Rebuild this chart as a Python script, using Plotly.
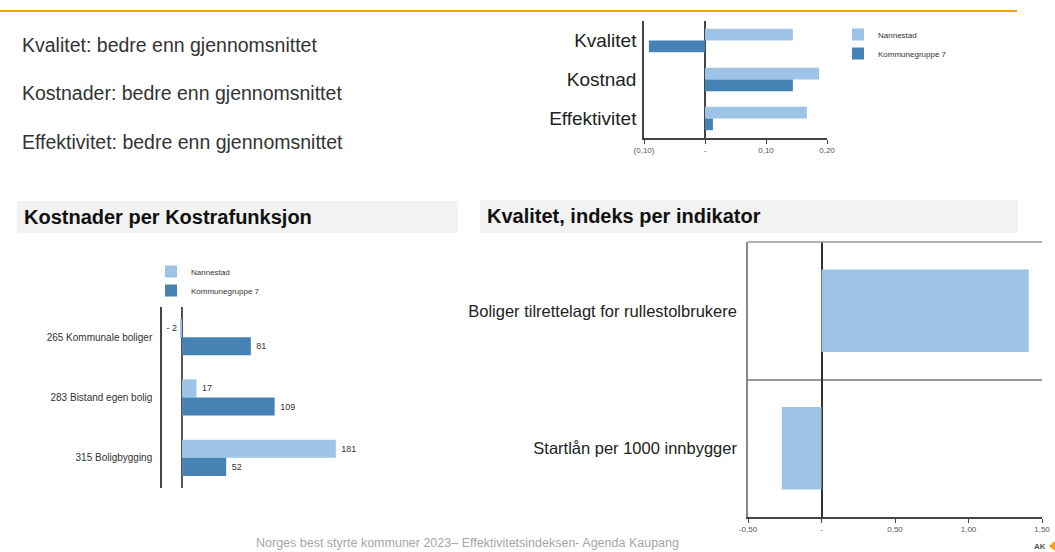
import plotly.graph_objects as go

W, H = 1055, 552


def px(x):
    return x / W


def py(y):
    return 1 - y / H


FONT = "Liberation Sans, Arial, sans-serif"
LIGHT = "#9DC3E6"
DARK = "#4682B4"
ORANGE = "#F5A316"

# Summary text
summary_lines = [
    "Kvalitet: bedre enn gjennomsnittet",
    "Kostnader: bedre enn gjennomsnittet",
    "Effektivitet: bedre enn gjennomsnittet",
]

# Index overview
index_categories = ["Kvalitet", "Kostnad", "Effektivitet"]
index_nannestad = [0.144, 0.187, 0.167]
index_kg7 = [-0.092, 0.144, 0.013]
index_tickvals = [-0.10, 0.0, 0.10, 0.20]
index_ticktext = ["(0,10)", "-", "0,10", "0,20"]

# Costs per KOSTRA function
kostra_categories = ["265 Kommunale boliger", "283 Bistand egen bolig", "315 Boligbygging"]
kostra_nannestad = [-2, 17, 181]
kostra_kg7 = [81, 109, 52]

# Quality index per indicator
quality_categories = ["Boliger tilrettelagt for rullestolbrukere", "Startlån per 1000 innbygger"]
quality_nannestad = [1.41, -0.27]
quality_tickvals = [-0.5, 0.0, 0.5, 1.0, 1.5]
quality_ticktext = ["-0,50", "-", "0,50", "1,00", "1,50"]

series_names = ["Nannestad", "Kommunegruppe 7"]


def fmt_label(v):
    return f"- {abs(v)}" if v < 0 else f" {v}"


fig = go.Figure()

# Index overview bars
fig.add_trace(go.Bar(
    y=index_categories, x=index_nannestad, orientation="h", name=series_names[0],
    marker=dict(color=LIGHT, line=dict(width=0)), xaxis="x", yaxis="y", legend="legend",
))
fig.add_trace(go.Bar(
    y=index_categories, x=index_kg7, orientation="h", name=series_names[1],
    marker=dict(color=DARK, line=dict(width=0)), xaxis="x", yaxis="y", legend="legend",
))

# KOSTRA bars
fig.add_trace(go.Bar(
    y=kostra_categories, x=kostra_nannestad, orientation="h", name=series_names[0],
    marker=dict(color=LIGHT, line=dict(width=0)), xaxis="x2", yaxis="y2", legend="legend2",
    text=[fmt_label(v) for v in kostra_nannestad], textposition="outside",
    textfont=dict(size=9, color="#333333", family=FONT), cliponaxis=False, constraintext="none",
))
fig.add_trace(go.Bar(
    y=kostra_categories, x=kostra_kg7, orientation="h", name=series_names[1],
    marker=dict(color=DARK, line=dict(width=0)), xaxis="x2", yaxis="y2", legend="legend2",
    text=[fmt_label(v) for v in kostra_kg7], textposition="outside",
    textfont=dict(size=9, color="#333333", family=FONT), cliponaxis=False, constraintext="none",
))

# Quality bars
fig.add_trace(go.Bar(
    y=quality_categories, x=quality_nannestad, orientation="h", name=series_names[0],
    marker=dict(color=LIGHT, line=dict(width=0)), xaxis="x3", yaxis="y3", showlegend=False,
))

shapes = [
    # orange rule along the top
    dict(type="line", xref="paper", yref="paper", x0=0, x1=px(1017), y0=py(11), y1=py(11),
         line=dict(color=ORANGE, width=2)),
    # section header panels
    dict(type="rect", xref="paper", yref="paper", x0=px(17), x1=px(458), y0=py(233), y1=py(201),
         fillcolor="#F2F2F2", line=dict(width=0), layer="below"),
    dict(type="rect", xref="paper", yref="paper", x0=px(480), x1=px(1018), y0=py(233), y1=py(200),
         fillcolor="#F2F2F2", line=dict(width=0), layer="below"),
    # top border of the quality panel
    dict(type="line", xref="x3 domain", yref="y3 domain", x0=0, x1=1, y0=1, y1=1,
         line=dict(color="#999999", width=1.5)),
    # small logo mark
    dict(type="path", xref="paper", yref="paper",
         path=f"M {px(1049)} {py(546)} L {px(1055)} {py(541)} L {px(1055)} {py(551)} Z",
         fillcolor=ORANGE, line=dict(width=0)),
]

annotations = []
for i, line in enumerate(summary_lines):
    annotations.append(dict(
        text=line, xref="paper", yref="paper", x=px(20), y=py([45, 93, 142][i]),
        xanchor="left", yanchor="middle", showarrow=False,
        font=dict(size=19.5, color="#333333", family=FONT),
    ))
annotations += [
    dict(text="<b>Kostnader per Kostrafunksjon</b>", xref="paper", yref="paper",
         x=px(22), y=py(217), xanchor="left", yanchor="middle", showarrow=False,
         font=dict(size=20, color="#111111", family=FONT)),
    dict(text="<b>Kvalitet, indeks per indikator</b>", xref="paper", yref="paper",
         x=px(485), y=py(216), xanchor="left", yanchor="middle", showarrow=False,
         font=dict(size=20, color="#111111", family=FONT)),
    dict(text="Norges best styrte kommuner 2023– Effektivitetsindeksen- Agenda Kaupang",
         xref="paper", yref="paper", x=px(467), y=py(543), xanchor="center", yanchor="middle",
         showarrow=False, font=dict(size=12.5, color="#A6A6A6", family=FONT)),
    dict(text="<b>AK</b>", xref="paper", yref="paper", x=px(1048), y=py(546),
         xanchor="right", yanchor="middle", showarrow=False,
         font=dict(size=8, color="#555555", family=FONT)),
]

legend_common = dict(
    xanchor="left", yanchor="top", bgcolor="rgba(0,0,0,0)", borderwidth=0,
    font=dict(size=8, color="#333333", family=FONT), itemwidth=30, traceorder="normal",
)

fig.update_layout(
    template="none",
    width=W, height=H, autosize=False, margin=dict(l=0, r=0, t=0, b=0, pad=0),
    paper_bgcolor="white", plot_bgcolor="white",
    font=dict(family=FONT, color="#333333"),
    barmode="group", bargap=0.4, bargroupgap=0,
    shapes=shapes, annotations=annotations,
    legend=dict(x=px(838), y=py(20), **legend_common),
    legend2=dict(x=px(151), y=py(257), **legend_common),
    xaxis=dict(
        domain=[px(644), px(827)], range=[-0.10, 0.20], anchor="y", automargin=False,
        tickvals=index_tickvals, ticktext=index_ticktext,
        ticks="outside", ticklen=4, tickcolor="#444444", tickwidth=1,
        showline=True, linecolor="#444444", linewidth=1.5,
        zeroline=True, zerolinecolor="#444444", zerolinewidth=1.5,
        showgrid=False, tickfont=dict(size=8, color="#555555"),
    ),
    yaxis=dict(
        domain=[py(138), py(21)], anchor="x", autorange="reversed", automargin=False,
        showline=True, linecolor="#444444", linewidth=1.5, ticks="",
        showgrid=False, zeroline=False, tickfont=dict(size=19, color="#222222"), ticklabelstandoff=2,
    ),
    xaxis2=dict(
        domain=[px(162), px(420)], range=[-23.5, 280], anchor="y2", automargin=False,
        showticklabels=False, ticks="", showline=False, showgrid=False,
        zeroline=True, zerolinecolor="#555555", zerolinewidth=1.5,
    ),
    yaxis2=dict(
        domain=[py(488), py(307)], anchor="x2", autorange="reversed", automargin=False,
        showline=True, linecolor="#444444", linewidth=1.5, ticks="",
        showgrid=False, zeroline=False, tickfont=dict(size=10, color="#333333"), ticklabelstandoff=6,
    ),
    xaxis3=dict(
        domain=[px(748), px(1042)], range=[-0.5, 1.5], anchor="y3", automargin=False,
        tickvals=quality_tickvals, ticktext=quality_ticktext,
        ticks="outside", ticklen=4, tickcolor="#444444", tickwidth=1,
        showline=True, linecolor="#444444", linewidth=1.5,
        zeroline=True, zerolinecolor="#333333", zerolinewidth=1.5,
        showgrid=False, tickfont=dict(size=8, color="#555555"),
    ),
    yaxis3=dict(
        domain=[py(517), py(242)], anchor="x3", autorange="reversed", automargin=False,
        showline=True, linecolor="#888888", linewidth=1.5, ticks="",
        showgrid=True, gridcolor="#999999", gridwidth=1.5, tickson="boundaries", zeroline=False,
        tickfont=dict(size=16.5, color="#222222"), ticklabelstandoff=6,
    ),
)

fig.write_html("out.html")
